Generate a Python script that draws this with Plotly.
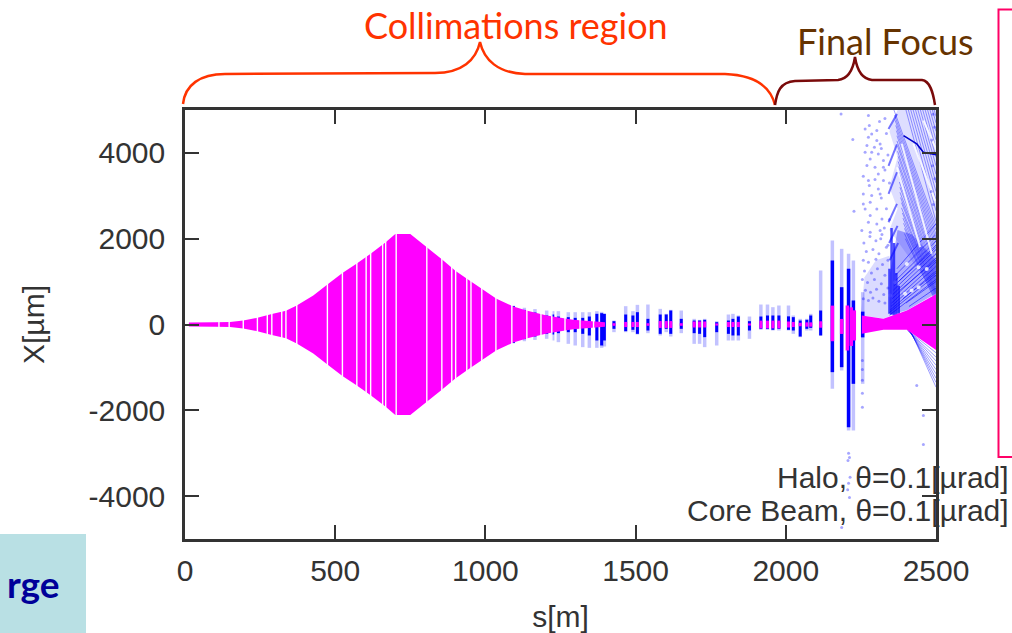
import plotly.graph_objects as go

W, H = 1012, 633
L, R, T, B = 185, 936, 110, 539

x_ticks = [0, 500, 1000, 1500, 2000, 2500]
y_ticks = [-4000, -2000, 0, 2000, 4000]

# core beam envelope
core_s = [13, 100, 150, 194, 241, 289, 336, 372, 427, 474, 524, 572, 618, 668, 700, 750, 805, 855, 901, 952, 1037, 1093, 1140, 1204, 1292, 1398]
core_half = [45, 55, 60, 95, 155, 245, 320, 440, 675, 930, 1200, 1420, 1650, 1920, 2110, 2110, 1800, 1520, 1250, 1000, 600, 420, 320, 210, 108, 50]
core_gaps = [113, 147, 194, 241, 274, 289, 322, 336, 372, 474, 524, 572, 603, 618, 658, 668, 703, 805, 855, 888, 901, 938, 952, 988, 1035, 1088, 1138, 1185, 1221, 1265, 1315, 1360]

# core beam at isolated elements
col_s = [1428, 1467, 1491, 1506, 1541, 1582, 1602, 1617, 1652, 1695, 1713, 1730, 1770, 1809, 1824, 1842, 1879, 1917, 1939, 1957, 1977, 2009, 2025, 2048, 2070, 2083, 2116]
col_half = [30, 60, 60, 60, 30, 80, 80, 80, 30, 70, 70, 70, 25, 60, 60, 60, 25, 90, 90, 90, 90, 70, 60, 40, 50, 50, 75]
big_s = [2155, 2186, 2205, 2218, 2228]
big_hi = [440, 130, 443, 400, 330]
big_lo = [-390, -220, -606, -500, -373]
ff_s = [2253, 2325, 2403, 2503]
ff_hi = [210, 132, 326, 715]
ff_lo = [-218, -124, -124, -606]

# halo columns
halo_s = [1093, 1130, 1165, 1204, 1224, 1243, 1276, 1299, 1324, 1346, 1371, 1387, 1396, 1428, 1467, 1491, 1506, 1541, 1582, 1602, 1617, 1652, 1695, 1713, 1730, 1770, 1809, 1824, 1842, 1879, 1917, 1939, 1957, 1977, 2009, 2025, 2048, 2070, 2083, 2116]
halo_dark_hi = [430, 340, 280, 210, 233, 186, 171, 155, 155, 186, 249, 264, 249, 78, 233, 210, 287, 132, 233, 233, 326, 132, 93, 93, 109, 54, 93, 132, 186, 78, 186, 210, 210, 210, 190, 171, 93, 109, 210, 326]
halo_dark_lo = [-430, -340, -280, -217, -233, -202, -179, -179, -218, -256, -373, -489, -373, -101, -155, -124, -218, -140, -218, -101, -218, -101, -202, -218, -295, -179, -218, -256, -256, -140, -101, -101, -124, -101, -124, -140, -280, -101, -78, -256]
halo_faint_hi = [440, 390, 360, 326, 311, 311, 287, 287, 287, 287, 311, 295, 249, 93, 427, 311, 458, 466, 365, 249, 342, 326, 132, 109, 132, 78, 233, 249, 210, 186, 466, 466, 404, 443, 443, 210, 132, 132, 249, 1259]
halo_faint_lo = [-440, -390, -360, -334, -373, -412, -451, -490, -528, -544, -544, -544, -513, -179, -179, -179, -233, -202, -256, -179, -280, -202, -451, -451, -528, -490, -373, -373, -373, -334, -124, -124, -140, -140, -140, -218, -295, -140, -140, -256]

# final doublet region columns
wide_s = [2155, 2186, 2209, 2225, 2256]
wide_dark_hi = [1492, 870, 1298, 560, 300]
wide_dark_lo = [-1111, -995, -2393, -1383, -300]
wide_faint_hi = [1958, 1764, 1647, 1492, 754]
wide_faint_lo = [-1500, -1072, -2470, -2470, -1383]

# halo rays in the final focus
fall_s0 = [2360, 2362, 2364, 2366, 2368, 2370, 2370, 2372, 2372, 2374, 2374, 2376, 2376, 2378, 2378, 2380, 2380, 2382, 2385, 2385, 2388, 2390, 2392, 2395, 2395, 2398, 2400, 2408, 2416, 2424, 2432, 2440, 2448, 2456, 2464, 2472, 2480, 2488, 2494]
fall_x0 = [5000, 4880, 4760, 4640, 4520, 4400, 4280, 4160, 4040, 3920, 3800, 3680, 3560, 3440, 3320, 3200, 3080, 2960, 2840, 2720, 2600, 2480, 2360, 2240, 2120, 2000, 5000, 5000, 5000, 5000, 5000, 5000, 5000, 5000, 5000, 5000, 5000, 5000, 5000]
fall_s1 = [2500] * 39
fall_x1 = [2300, 2200, 2100, 2000, 1900, 1800, 1700, 1600, 1500, 1420, 1340, 1260, 1180, 1100, 1040, 980, 920, 860, 800, 760, 720, 680, 640, 600, 560, 520, 2400, 2650, 2900, 3100, 3300, 3500, 3700, 3900, 4100, 4300, 4500, 4700, 4850]
rise_s0 = [2345, 2345, 2348, 2350, 2352, 2354, 2356, 2358, 2360, 2362, 2365, 2370, 2375, 2380, 2390, 2400, 2410]
rise_x0 = [220, 280, 340, 420, 500, 600, 700, 800, 900, 1000, 1150, 1300, 1000, 800, 600, 500, 420]
rise_s1 = [2500] * 17
rise_x1 = [1050, 1150, 1250, 1350, 1450, 1550, 1650, 1750, 1850, 1950, 2100, 2350, 1800, 1500, 1200, 1000, 850]
low_s0 = [2405, 2405, 2408, 2410, 2412, 2414, 2416, 2418, 2420]
low_x0 = [-130, -130, -140, -150, -160, -180, -190, -200, -218]
low_s1 = [2500, 2500, 2500, 2500, 2500, 2500, 2500, 2500, 2500]
low_x1 = [-660, -760, -850, -950, -1050, -1150, -1250, -1350, -1460]
curve_s = [2392, 2436, 2458, 2503]
curve_x = [4404, 4209, 4015, 3953]
chev_s0 = [2342, 2342, 2342, 2342, 2344, 2346]
chev_x0 = [4559, 3044, 2383, 3700, 1900, 1500]
chev_s1 = [2370, 2370, 2370, 2370, 2372, 2374]
chev_x1 = [4909, 3549, 2811, 4200, 2300, 1900]
blob_s = [2345, 2352, 2360, 2368, 2376]
blob_hi = [1300, 2250, 1900, 1200, 900]
blob_lo = [250, 230, 210, 220, 250]

# white streaks between ray bundles
streak_s0 = [2386, 2370, 2425, 2458]
streak_x0 = [4211, 3667, 4211, 4755]
streak_s1 = [2486, 2447, 2497, 2503]
streak_x1 = [1647, 1803, 2890, 4056]
web_gap_s = [2397, 2419, 2442, 2469, 2403, 2442, 2364, 2347]
web_gap_x = [714, 791, 869, 1296, 1413, 1335, 986, 675]

haze_s = [2250, 2262, 2300, 2345, 2350, 2325, 2253]
haze_x = [220, 1100, 1500, 1600, 200, 140, 210]
upper_s = [2372, 2345, 2372, 2345, 2372, 2345, 2500, 2500]
upper_x = [5000, 4500, 3900, 3200, 2700, 2200, 700, 5000]
web_s = [2348, 2403, 2500, 2500, 2420, 2372, 2348]
web_x = [220, 330, 720, 1500, 2100, 2200, 1200]

cloud_s = [2184, 2275, 2312, 2278, 2303, 2264, 2286, 2223, 2275, 2303, 2270, 2295, 2314, 2264, 2286, 2308, 2281, 2325, 2270, 2297, 2325, 2308, 2258, 2275, 2297, 2325, 2278, 2308, 2258, 2286, 2314, 2258, 2281, 2264, 2303, 2227, 2281, 2320, 2275, 2303, 2253, 2281, 2314,
           2260, 2280, 2300, 2320, 2268, 2290, 2310, 2335, 2258, 2275, 2300, 2322, 2340, 2262, 2285, 2305, 2330, 2255, 2272, 2295, 2318, 2265, 2282, 2302, 2326, 2340, 2258, 2275, 2290, 2310, 2330,
           2209, 2212, 2207, 2214, 2209, 2206, 2212, 2186, 2436, 2458, 2458, 2447, 2255, 2255, 2255, 2255, 2255, 2490, 2495, 2486, 2493, 2488, 2496, 2484, 2491,
           2330, 2335, 2318, 2340, 2330, 2345, 2318, 2335, 2345, 2328, 2316, 2340]
cloud_x = [4909, 4870, 4730, 4637, 4520, 4559, 4443, 4310, 4365, 4287, 4171, 4132, 4209, 4015, 4015, 3976, 3860, 3821, 3704, 3666, 3666, 3510, 3456, 3355, 3378, 3355, 3238, 3160, 3044, 3005, 3044, 2811, 2850, 2694, 2694, 2640, 2539, 2461, 2383, 2345, 2189, 2150, 2189,
           1900, 2050, 1950, 2100, 1700, 1750, 1650, 1800, 1500, 1450, 1520, 1400, 1500, 1250, 1200, 1300, 1150, 1050, 980, 1050, 950, 800, 750, 820, 700, 850, 600, 560, 620, 540, 500,
           -3000, -3100, -3170, -3560, -3700, -3850, -4030, -4730, -1421, -2120, -2796, -4170, -840, -1050, -1300, -1600, -1930, 4900, 4600, 4300, 4000, 3700, 3400, 3100, 2800,
           4800, 4450, 4100, 3950, 3600, 3300, 2950, 2700, 2450, 2250, 2000, 1850]

BLUE = "#0000FF"
FAINT = "rgba(0,0,255,0.24)"
MAG = "#FF00FF"
RAY = "rgba(0,0,255,0.38)"


def segs(xa0, ya0, xa1, ya1):
    xs, ys = [], []
    for a, b, c, d in zip(xa0, ya0, xa1, ya1):
        xs += [a, c, None]
        ys += [b, d, None]
    return xs, ys


def line(xs, ys, color, width):
    return go.Scatter(x=xs, y=ys, mode="lines", line=dict(color=color, width=width),
                      hoverinfo="skip", showlegend=False, connectgaps=False)


def area(xs, ys, color):
    return go.Scatter(x=xs + xs[:1], y=ys + ys[:1], mode="none", fill="toself", fillcolor=color,
                      showlegend=False, hoverinfo="skip")


fig = go.Figure()

# halo
fig.add_trace(area(haze_s, haze_x, "rgba(0,0,255,0.14)"))
fig.add_trace(area(upper_s, upper_x, "rgba(0,0,255,0.13)"))
fig.add_trace(area(web_s, web_x, "rgba(0,0,255,0.32)"))
fig.add_trace(line(*segs(halo_s, halo_faint_hi, halo_s, halo_faint_lo), FAINT, 3.5))
fig.add_trace(line(*segs(wide_s, wide_faint_hi, wide_s, wide_faint_lo), FAINT, 3.5))
fig.add_trace(line(*segs(fall_s0, fall_x0, fall_s1, fall_x1), RAY, 1))
fig.add_trace(line(*segs(rise_s0, rise_x0, rise_s1, rise_x1), "rgba(0,0,255,0.55)", 1))
fig.add_trace(line(*segs(low_s0, low_x0, low_s1, low_x1), RAY, 1))
fig.add_trace(line(*segs(streak_s0, streak_x0, streak_s1, streak_x1), "rgba(255,255,255,0.85)", 2))
fig.add_trace(go.Scatter(x=web_gap_s, y=web_gap_x, mode="markers",
                         marker=dict(color="rgba(255,255,255,0.8)", size=4, line=dict(width=0)),
                         showlegend=False, hoverinfo="skip"))
fig.add_trace(line(*segs(chev_s0, chev_x0, chev_s1, chev_x1), "rgba(0,0,255,0.55)", 2))
fig.add_trace(line(*segs(blob_s, blob_hi, blob_s, blob_lo), "rgba(0,0,255,0.7)", 2.5))
fig.add_trace(line(curve_s, curve_x, "#0000CC", 1.5))
fig.add_trace(go.Scatter(x=cloud_s, y=cloud_x, mode="markers",
                         marker=dict(color="rgba(0,0,255,0.35)", size=3, line=dict(width=0)),
                         showlegend=False, hoverinfo="skip"))
fig.add_trace(line(*segs(halo_s, halo_dark_hi, halo_s, halo_dark_lo), BLUE, 3))
fig.add_trace(line(*segs(wide_s, wide_dark_hi, wide_s, wide_dark_lo), BLUE, 3.5))

# core beam
fig.add_trace(area(core_s + core_s[::-1], core_half + [-v for v in core_half[::-1]], MAG))
fig.add_trace(area(ff_s + ff_s[::-1], ff_hi + ff_lo[::-1], MAG))
fig.add_trace(line(*segs(col_s, col_half, col_s, [-v for v in col_half]), MAG, 3))
fig.add_trace(line(*segs(big_s, big_hi, big_s, big_lo), MAG, 3.5))
fig.add_trace(line(*segs(core_gaps, [2300] * len(core_gaps), core_gaps, [-2300] * len(core_gaps)),
                   "white", 1.4))


def px(x):
    return (x - L) / (R - L)


def py(y):
    return 1 - (y - T) / (B - T)


def path(points):
    parts = []
    for cmd, *pts in points:
        parts.append(cmd + " " + " ".join(f"{px(a):.5f},{py(b):.5f}" for a, b in pts))
    return " ".join(parts)


orange_brace = [("M", (183, 104)), ("C", (185, 85), (200, 74), (225, 74)), ("L", (435, 73)),
                ("C", (462, 73), (476, 60), (480, 42)), ("C", (484, 60), (498, 73), (525, 74)),
                ("L", (725, 74)), ("C", (752, 75), (770, 85), (775, 105))]
red_brace = [("M", (775, 105)), ("C", (777, 92), (780, 82), (795, 81)), ("L", (838, 80)),
             ("C", (848, 79), (853, 70), (855, 57)), ("C", (857, 70), (862, 79), (872, 80)),
             ("L", (922, 80)), ("C", (930, 81), (933, 92), (935, 105))]

shapes = [
    dict(type="rect", xref="paper", yref="paper", x0=px(0), x1=px(86), y0=py(633), y1=py(534),
         fillcolor="#B9E0E4", line=dict(width=0), layer="below"),
    dict(type="rect", xref="paper", yref="paper", x0=px(998.5), x1=px(1030), y0=py(457), y1=py(9.5),
         fillcolor="rgba(0,0,0,0)", line=dict(color="#FF0066", width=2), layer="above"),
    dict(type="path", xref="paper", yref="paper", path=path(orange_brace),
         line=dict(color="#FF3300", width=2.5)),
    dict(type="path", xref="paper", yref="paper", path=path(red_brace),
         line=dict(color="#7A0A0A", width=2.5)),
]


def note(text, x, y, size, color, family, anchor="center"):
    return dict(text=text, x=px(x), y=py(y), xref="paper", yref="paper", showarrow=False,
                xanchor=anchor, yanchor="middle", font=dict(size=size, color=color, family=family))


annotations = [
    note("Collimations region", 516, 25, 36, "#FF3300", "Lato"),
    note("Final Focus", 885, 41, 36, "#663300", "Lato"),
    note("Halo, θ=0.1[µrad]", 1011, 477, 30, "#333333", "Liberation Sans", "right"),
    note("Core Beam, θ=0.1[µrad]", 1011, 510, 30, "#333333", "Liberation Sans", "right"),
    note("<b>rge</b>", 62, 583, 37, "#000099", "Lato", "right"),
]

axis = dict(showgrid=False, zeroline=False, showline=True, linecolor="#333333", linewidth=2.5,
            mirror="allticks", ticks="inside", ticklen=14, tickwidth=2, tickcolor="#333333",
            automargin=False,
            tickfont=dict(family="Liberation Sans", size=30, color="#333333"))

fig.update_layout(
    width=W, height=H, autosize=False,
    margin=dict(l=L, r=W - R, t=T, b=H - B, pad=0),
    paper_bgcolor="white", plot_bgcolor="white", showlegend=False,
    xaxis=dict(axis, range=[0, 2500], tickvals=x_ticks, ticktext=[str(v) for v in x_ticks],
               ticklabelstandoff=3,
               title=dict(text="s[m]", standoff=24,
                          font=dict(family="Liberation Sans", size=30, color="#333333"))),
    yaxis=dict(axis, range=[-5000, 5000], tickvals=y_ticks, ticktext=[str(v) for v in y_ticks],
               ticklabelstandoff=11,
               title=dict(text="X[µm]", standoff=36,
                          font=dict(family="Liberation Sans", size=30, color="#333333"))),
    shapes=shapes, annotations=annotations,
)
fig.write_html("out.html", config={"displayModeBar": False},
               post_script="document.body.style.margin='0';document.body.style.overflow='hidden';")
